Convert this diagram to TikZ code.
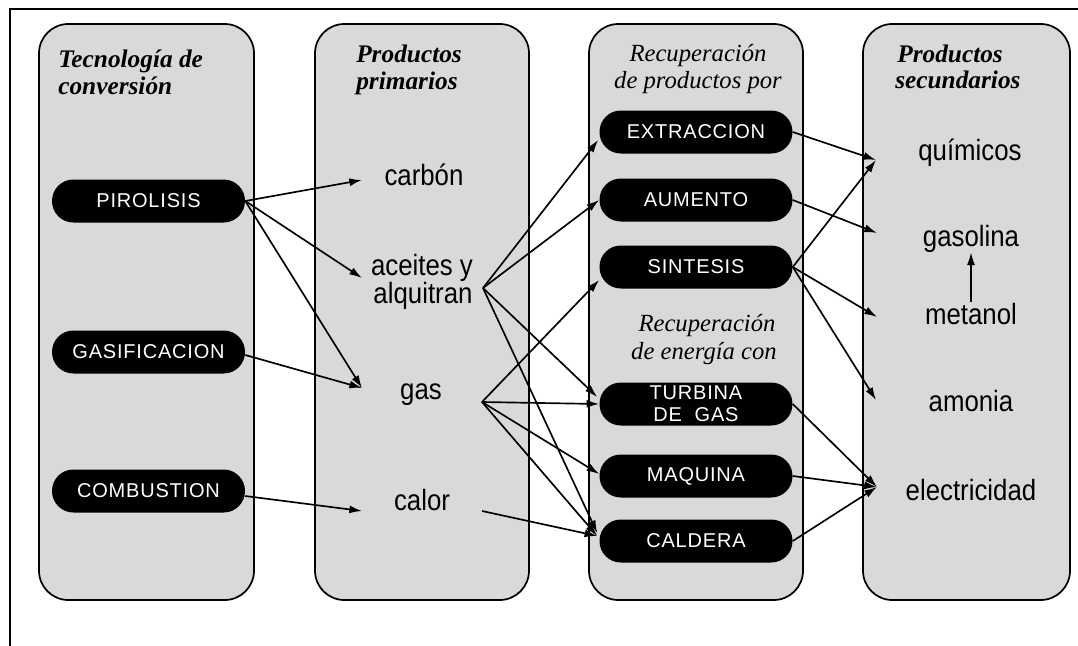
\documentclass[tikz,border=0pt]{standalone}
\usepackage{fontspec}
\setmainfont{Liberation Serif}
\newfontfamily\labelfont{Liberation Sans}[FakeStretch=0.88]
\newfontfamily\pillfont{Liberation Sans}[LetterSpace=4.0]
\usetikzlibrary{arrows.meta,calc}
\definecolor{panelgray}{RGB}{217,217,217}

\begin{document}
\begin{tikzpicture}[x=0.75pt,y=-0.75pt,
  panel/.style={draw=black, line width=1.3pt, fill=panelgray, rounded corners=22pt},
  pill/.style={fill=black, rounded corners=16pt, minimum height=32.25pt,
    minimum width=144.75pt, inner sep=0pt, text=white, align=center,
    font=\pillfont\fontsize{15}{16.5}\selectfont},
  prod/.style={inner sep=0pt, anchor=base, font=\labelfont\fontsize{22}{25}\selectfont},
  ttl/.style={inner sep=0pt, anchor=base west, font=\bfseries\itshape\fontsize{19}{22}\selectfont},
  ttlc/.style={inner sep=0pt, anchor=base, font=\itshape\fontsize{18.5}{22}\selectfont},
  arr/.style={line width=1.25pt, -{Latex[length=9.5pt,width=6pt]}},
]
\useasboundingbox (0,0) rectangle (1078,646);

% outer frame (open to the right and bottom)
\draw[line width=1.5pt] (10,646) -- (10,9) -- (1078,9);

% the four columns
\draw[panel] (39,24) rectangle (254,600);
\draw[panel] (315,24) rectangle (529,600);
\draw[panel] (589,24) rectangle (803,600);
\draw[panel] (863,24) rectangle (1070,600);

% column headings
\node[ttl] (t1a) at (58,67) {Tecnología de};
\node[ttl] (t1b) at (58,94) {conversión};
\node[ttl] (t2a) at (356,62) {Productos};
\node[ttl] (t2b) at (356,89) {primarios};
\node[ttlc] (t3a) at (698,61) {Recuperación};
\node[ttlc] (t3b) at (698,88) {de productos por};
\node[ttl] (t4a) at (897,62) {Productos};
\node[ttl] (t4b) at (895,88) {secundarios};
\node[ttlc] (t5a) at (707,331) {Recuperación};
\node[ttlc] (t5b) at (704,359) {de energía con};

% conversion technologies
\node[pill] (pir) at (148.5,201) {PIROLISIS};
\node[pill] (gsf) at (148.5,352) {GASIFICACION};
\node[pill] (cmb) at (148.5,491) {COMBUSTION};

% recovery processes
\node[pill] (ext) at (696,132) {EXTRACCION};
\node[pill] (aum) at (696,200) {AUMENTO};
\node[pill] (sin) at (696,267) {SINTESIS};
\node[pill] (tur) at (696,404) {TURBINA\\DE\ \ GAS};
\node[pill] (maq) at (696,476) {MAQUINA};
\node[pill] (cal) at (696,541) {CALDERA};

% primary products
\node[prod] (carbon) at (424,185) {carbón};
\node[prod] (aceites) at (422,275) {aceites y};
\node[prod] (alquitran) at (423,303) {alquitran};
\node[prod] (gas) at (421,399) {gas};
\node[prod] (calor) at (422,510) {calor};

% secondary products
\node[prod] (quim) at (970,160) {químicos};
\node[prod] (gasolina) at (971,246) {gasolina};
\node[prod] (metanol) at (971,324) {metanol};
\node[prod] (amonia) at (971,411) {amonia};
\node[prod] (elec) at (971,500) {electricidad};

% arrow ports beside the product labels
\coordinate (carbonIn) at (362,180);
\coordinate (aceitesIn) at (362,278);
\coordinate (gasIn) at (362,388);
\coordinate (calorIn) at (362,511);
\coordinate (aceitesOut) at (483,288);
\coordinate (gasOut) at (482,402);
\coordinate (calorOut) at (482,511);
\coordinate (quimIn) at (876,160);
\coordinate (gasolinaIn) at (877,233);
\coordinate (metanolIn) at (877,317);
\coordinate (amoniaIn) at (876,400);
\coordinate (elecIn) at (877,487);

% technology -> primary product
\draw[arr] (pir.east) -- (carbonIn);
\draw[arr] (pir.east) -- (aceitesIn);
\draw[arr] (pir.east) -- (gasIn);
\draw[arr] ($(gsf.east)+(0,3)$) -- (gasIn);
\draw[arr] ($(cmb.east)+(0,5)$) -- (calorIn);

% primary product -> recovery process
\draw[arr] (aceitesOut) -- ($(ext.west)+(-1,8)$);
\draw[arr] (aceitesOut) -- (aum.west);
\draw[arr] (aceitesOut) -- ($(tur.west)+(-2,-7)$);
\draw[arr] (aceitesOut) -- ($(cal.west)+(-2,-8)$);
\draw[arr] (gasOut) -- ($(sin.west)+(0,13)$);
\draw[arr] (gasOut) -- (tur.west);
\draw[arr] (gasOut) -- ($(maq.west)+(0,-2)$);
\draw[arr] (gasOut) -- ($(cal.west)+(-2,-5)$);
\draw[arr] (calorOut) -- ($(cal.west)+(-2,-5)$);

% recovery process -> secondary product
\draw[arr] (ext.east) -- (quimIn);
\draw[arr] (aum.east) -- (gasolinaIn);
\draw[arr] (sin.east) -- (quimIn);
\draw[arr] (sin.east) -- (metanolIn);
\draw[arr] (sin.east) -- (amoniaIn);
\draw[arr] (tur.east) -- (elecIn);
\draw[arr] (maq.east) -- (elecIn);
\draw[arr] (cal.east) -- (elecIn);
\draw[arr] (metanol.north) -- (gasolina.south);
\end{tikzpicture}
\end{document}
